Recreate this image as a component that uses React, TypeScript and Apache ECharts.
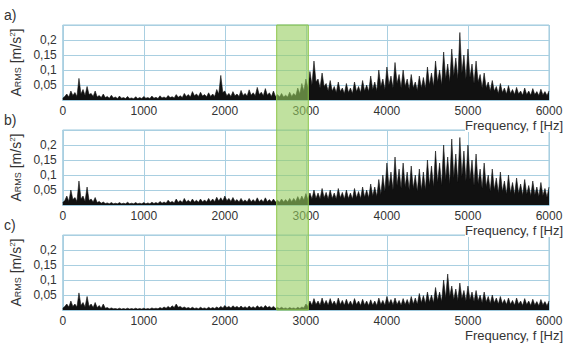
import React, { useEffect, useRef } from "react";
import * as echarts from "echarts";

const FREQ_STEP = 25;
const X_MAX = 6000;
const Y_MAX = 0.25;
const PANEL_LABELS = ["a)", "b)", "c)"];
const X_AXIS_NAME = "Frequency, f [Hz]";
// highlighted frequency band (Hz)
const BAND = [2640, 3030];

// a) amplitude every 25 Hz, 0..6000 Hz (one row = 500 Hz)
const SPECTRUM_A = [
  0.006, 0.012, 0.02, 0.01, 0.03, 0.015, 0.025, 0.012, 0.072, 0.02, 0.035, 0.015, 0.045, 0.018, 0.022, 0.012, 0.03, 0.01, 0.015, 0.008,
  0.02, 0.008, 0.012, 0.006, 0.016, 0.007, 0.01, 0.005, 0.013, 0.006, 0.008, 0.005, 0.012, 0.005, 0.007, 0.004, 0.011, 0.005, 0.008, 0.005,
  0.012, 0.006, 0.008, 0.005, 0.013, 0.006, 0.009, 0.005, 0.014, 0.007, 0.01, 0.006, 0.015, 0.008, 0.011, 0.007, 0.018, 0.009, 0.014, 0.008,
  0.022, 0.012, 0.018, 0.01, 0.028, 0.014, 0.02, 0.012, 0.026, 0.013, 0.018, 0.011, 0.024, 0.012, 0.02, 0.012, 0.035, 0.02, 0.082, 0.025,
  0.03, 0.014, 0.022, 0.012, 0.028, 0.014, 0.02, 0.012, 0.032, 0.015, 0.022, 0.013, 0.034, 0.016, 0.024, 0.014, 0.042, 0.018, 0.026, 0.014,
  0.038, 0.016, 0.024, 0.012, 0.03, 0.012, 0.018, 0.01, 0.022, 0.01, 0.016, 0.01, 0.026, 0.012, 0.022, 0.014, 0.04, 0.02, 0.055, 0.03,
  0.07, 0.04, 0.095, 0.05, 0.13, 0.06, 0.07, 0.04, 0.09, 0.045, 0.055, 0.03, 0.065, 0.03, 0.045, 0.025, 0.06, 0.028, 0.04, 0.022,
  0.055, 0.025, 0.04, 0.022, 0.06, 0.028, 0.045, 0.025, 0.065, 0.03, 0.05, 0.028, 0.08, 0.035, 0.06, 0.03, 0.1, 0.045, 0.07, 0.035,
  0.11, 0.05, 0.08, 0.04, 0.125, 0.055, 0.085, 0.04, 0.1, 0.045, 0.07, 0.035, 0.085, 0.04, 0.06, 0.032, 0.08, 0.04, 0.075, 0.038,
  0.11, 0.05, 0.09, 0.045, 0.13, 0.06, 0.1, 0.05, 0.16, 0.07, 0.12, 0.06, 0.17, 0.08, 0.14, 0.07, 0.225, 0.09, 0.15, 0.07,
  0.17, 0.075, 0.12, 0.055, 0.13, 0.06, 0.085, 0.04, 0.09, 0.04, 0.06, 0.03, 0.065, 0.03, 0.045, 0.022, 0.055, 0.025, 0.04, 0.02,
  0.048, 0.022, 0.035, 0.018, 0.042, 0.02, 0.03, 0.016, 0.04, 0.018, 0.03, 0.016, 0.038, 0.018, 0.028, 0.015, 0.036, 0.017, 0.028, 0.015,
  0.03,
];

// b)
const SPECTRUM_B = [
  0.008, 0.015, 0.03, 0.012, 0.05, 0.018, 0.025, 0.012, 0.08, 0.02, 0.03, 0.012, 0.06, 0.015, 0.02, 0.01, 0.025, 0.008, 0.012, 0.006,
  0.01, 0.005, 0.007, 0.004, 0.008, 0.004, 0.006, 0.004, 0.008, 0.004, 0.006, 0.004, 0.009, 0.004, 0.006, 0.004, 0.008, 0.004, 0.006, 0.004,
  0.008, 0.004, 0.007, 0.004, 0.009, 0.005, 0.008, 0.005, 0.012, 0.006, 0.01, 0.006, 0.016, 0.008, 0.012, 0.007, 0.02, 0.009, 0.015, 0.008,
  0.022, 0.01, 0.016, 0.009, 0.02, 0.01, 0.016, 0.009, 0.02, 0.01, 0.017, 0.01, 0.022, 0.011, 0.02, 0.011, 0.026, 0.013, 0.024, 0.013,
  0.03, 0.014, 0.022, 0.012, 0.025, 0.012, 0.018, 0.01, 0.022, 0.011, 0.017, 0.01, 0.022, 0.011, 0.018, 0.01, 0.024, 0.011, 0.018, 0.01,
  0.024, 0.011, 0.018, 0.01, 0.02, 0.01, 0.016, 0.009, 0.02, 0.01, 0.018, 0.01, 0.022, 0.011, 0.022, 0.012, 0.028, 0.014, 0.03, 0.016,
  0.038, 0.018, 0.04, 0.02, 0.05, 0.022, 0.04, 0.02, 0.055, 0.024, 0.042, 0.02, 0.05, 0.022, 0.04, 0.02, 0.055, 0.024, 0.042, 0.02,
  0.05, 0.022, 0.04, 0.02, 0.055, 0.024, 0.045, 0.022, 0.06, 0.026, 0.05, 0.024, 0.07, 0.03, 0.06, 0.028, 0.085, 0.035, 0.1, 0.045,
  0.14, 0.06, 0.11, 0.05, 0.16, 0.065, 0.12, 0.055, 0.14, 0.06, 0.11, 0.05, 0.13, 0.055, 0.1, 0.045, 0.12, 0.05, 0.11, 0.05,
  0.15, 0.065, 0.13, 0.06, 0.18, 0.075, 0.14, 0.065, 0.2, 0.085, 0.16, 0.07, 0.22, 0.09, 0.17, 0.075, 0.225, 0.095, 0.18, 0.08,
  0.2, 0.085, 0.15, 0.065, 0.17, 0.07, 0.12, 0.055, 0.14, 0.06, 0.1, 0.045, 0.12, 0.05, 0.09, 0.04, 0.11, 0.045, 0.08, 0.036,
  0.1, 0.04, 0.075, 0.034, 0.09, 0.038, 0.07, 0.032, 0.085, 0.036, 0.065, 0.03, 0.08, 0.034, 0.06, 0.028, 0.075, 0.032, 0.055, 0.026,
  0.06,
];

// c)
const SPECTRUM_C = [
  0.006, 0.012, 0.02, 0.01, 0.03, 0.012, 0.02, 0.01, 0.057, 0.015, 0.025, 0.01, 0.045, 0.012, 0.02, 0.008, 0.025, 0.008, 0.015, 0.006,
  0.02, 0.006, 0.008, 0.004, 0.007, 0.004, 0.005, 0.003, 0.006, 0.003, 0.005, 0.003, 0.006, 0.003, 0.005, 0.003, 0.006, 0.003, 0.005, 0.003,
  0.006, 0.003, 0.005, 0.003, 0.007, 0.004, 0.006, 0.004, 0.008, 0.005, 0.01, 0.006, 0.012, 0.007, 0.014, 0.008, 0.02, 0.009, 0.012, 0.007,
  0.01, 0.006, 0.008, 0.005, 0.009, 0.005, 0.007, 0.004, 0.009, 0.005, 0.007, 0.004, 0.009, 0.005, 0.008, 0.005, 0.01, 0.006, 0.012, 0.007,
  0.015, 0.008, 0.012, 0.007, 0.014, 0.008, 0.012, 0.007, 0.013, 0.007, 0.011, 0.006, 0.013, 0.007, 0.011, 0.006, 0.014, 0.008, 0.012, 0.007,
  0.015, 0.008, 0.012, 0.007, 0.012, 0.006, 0.008, 0.005, 0.009, 0.005, 0.007, 0.004, 0.008, 0.005, 0.007, 0.004, 0.009, 0.005, 0.01, 0.007,
  0.02, 0.012, 0.03, 0.016, 0.038, 0.018, 0.03, 0.016, 0.04, 0.018, 0.032, 0.016, 0.038, 0.018, 0.03, 0.015, 0.04, 0.018, 0.032, 0.016,
  0.036, 0.017, 0.03, 0.015, 0.038, 0.018, 0.03, 0.015, 0.036, 0.017, 0.03, 0.015, 0.034, 0.016, 0.03, 0.015, 0.04, 0.018, 0.032, 0.016,
  0.045, 0.02, 0.035, 0.017, 0.04, 0.018, 0.032, 0.016, 0.038, 0.018, 0.035, 0.017, 0.045, 0.02, 0.04, 0.019, 0.055, 0.024, 0.048, 0.022,
  0.06, 0.026, 0.05, 0.024, 0.075, 0.032, 0.06, 0.028, 0.1, 0.04, 0.12, 0.045, 0.08, 0.035, 0.07, 0.032, 0.09, 0.038, 0.065, 0.03,
  0.08, 0.034, 0.06, 0.028, 0.065, 0.03, 0.05, 0.024, 0.06, 0.027, 0.045, 0.022, 0.05, 0.024, 0.04, 0.02, 0.045, 0.021, 0.035, 0.018,
  0.04, 0.019, 0.032, 0.016, 0.04, 0.019, 0.03, 0.015, 0.038, 0.018, 0.03, 0.015, 0.036, 0.017, 0.028, 0.014, 0.035, 0.017, 0.028, 0.014,
  0.03,
];

const SPECTRA = [SPECTRUM_A, SPECTRUM_B, SPECTRUM_C];

const FONT = "Liberation Sans, Arial, sans-serif";
const GRID_COLOR = "#a9cfe1";
const BORDER_COLOR = "#9cc8dc";
const TEXT_COLOR = "#333";

const GRID_TOPS = [25, 130, 235];
const GRID_LEFT = 62;
const GRID_WIDTH = 487;
const GRID_HEIGHT = 75;

export default function App() {
  const ref = useRef<HTMLDivElement>(null);

  useEffect(() => {
    if (!ref.current) return;
    const chart = echarts.init(ref.current, undefined, { renderer: "svg" });

    const grids = GRID_TOPS.map((top) => ({
      left: GRID_LEFT,
      top,
      width: GRID_WIDTH,
      height: GRID_HEIGHT,
      show: true,
      borderColor: BORDER_COLOR,
      borderWidth: 1,
      backgroundColor: "transparent",
    }));

    const xAxes = GRID_TOPS.map((_, i) => ({
      type: "value",
      gridIndex: i,
      min: 0,
      max: X_MAX,
      interval: 1000,
      axisLine: { show: true, lineStyle: { color: BORDER_COLOR } },
      axisTick: { show: false },
      axisLabel: {
        color: TEXT_COLOR,
        fontSize: 12,
        fontFamily: FONT,
        margin: 5,
        formatter: (v: number) => String(Math.round(v)),
      },
      splitLine: { show: true, lineStyle: { color: GRID_COLOR, width: 1 } },
    }));

    const yAxes = GRID_TOPS.map((_, i) => ({
      type: "value",
      gridIndex: i,
      min: 0,
      max: Y_MAX,
      interval: 0.05,
      axisLine: { show: false },
      axisTick: { show: false },
      axisLabel: {
        color: TEXT_COLOR,
        fontSize: 12,
        fontFamily: FONT,
        margin: 6,
        formatter: (v: number) => {
          const r = Math.round(v * 100) / 100;
          if (r === 0 || r >= Y_MAX) return "";
          return String(r).replace(".", ",");
        },
      },
      splitLine: { show: true, lineStyle: { color: GRID_COLOR, width: 1 } },
      name: "{a|A}{s|RMS}{a| [m/s}{p|2}{a|]}",
      nameLocation: "middle",
      nameRotate: 90,
      nameGap: 38,
      nameTextStyle: {
        color: TEXT_COLOR,
        fontFamily: FONT,
        rich: {
          a: { fontSize: 14, color: TEXT_COLOR, fontFamily: FONT },
          s: { fontSize: 9, color: TEXT_COLOR, fontFamily: FONT, padding: [5, 0, 0, 0] },
          p: { fontSize: 8, color: TEXT_COLOR, fontFamily: FONT, padding: [0, 0, 7, 0] },
        },
      },
    }));

    const series = SPECTRA.map((arr, i) => ({
      type: "line",
      xAxisIndex: i,
      yAxisIndex: i,
      showSymbol: false,
      symbol: "none",
      data: arr.map((v, k) => [k * FREQ_STEP, v]),
      lineStyle: { color: "#111", width: 0.6 },
      areaStyle: { color: "#111", opacity: 1 },
      z: 3,
    }));

    chart.setOption({
      animation: false,
      backgroundColor: "#fff",
      grid: grids,
      xAxis: xAxes,
      yAxis: yAxes,
      series,
    });

    const p1 = chart.convertToPixel({ gridIndex: 0 }, [BAND[0], Y_MAX]) as number[];
    const p2 = chart.convertToPixel({ gridIndex: 2 }, [BAND[1], 0]) as number[];

    const graphics: any[] = [
      {
        type: "rect",
        z: 100,
        shape: { x: p1[0], y: p1[1], width: p2[0] - p1[0], height: p2[1] - p1[1] },
        style: { fill: "rgba(150,205,95,0.6)", stroke: "#8dc64a", lineWidth: 1 },
      },
    ];
    GRID_TOPS.forEach((top, i) => {
      graphics.push({
        type: "text",
        z: 110,
        left: 4,
        top: top - 17,
        style: { text: PANEL_LABELS[i], fontSize: 14, fontFamily: FONT, fill: TEXT_COLOR },
      });
      graphics.push({
        type: "text",
        z: 110,
        right: 8,
        top: top + GRID_HEIGHT + 19,
        style: {
          text: X_AXIS_NAME,
          fontSize: 13,
          fontFamily: FONT,
          fill: TEXT_COLOR,
          backgroundColor: "#fff",
        },
      });
    });
    chart.setOption({ graphic: graphics });

    return () => chart.dispose();
  }, []);

  return (
    <div
      ref={ref}
      style={{ position: "fixed", left: 0, top: 0, width: 571, height: 347 }}
    />
  );
}
